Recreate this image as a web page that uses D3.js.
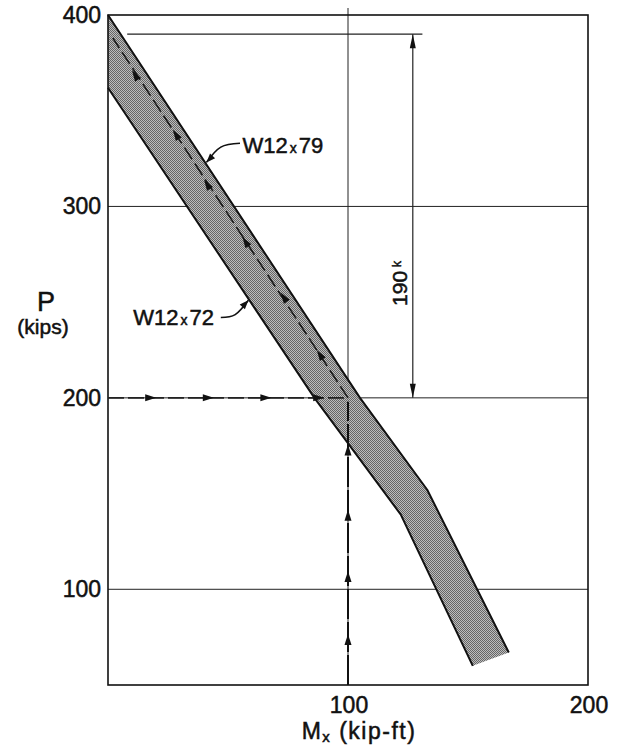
<!DOCTYPE html>
<html>
<head>
<meta charset="utf-8">
<script src="https://cdn.jsdelivr.net/npm/d3@7"></script>
<style>
  body { margin: 0; background: #fff; }
  text { font-family: "Liberation Sans", Arial, sans-serif; fill: #111; stroke: #111; stroke-width: 0.5px; }
</style>
</head>
<body>
<div id="chart"></div>
<script>
// values (M in kip-ft, P in kips)
var xTicks = [100, 200];
var yTicks = [100, 200, 300, 400];
var gridP = [100, 200, 300];
var gridM = [100];

// band edges
var w79 = [[0, 400], [105, 200], [133, 152], [167, 67]];
var w72 = [[0, 362], [86, 200], [122, 139], [152, 60]];

// design path
var pathHoriz = [[0, 200], [100, 200]];
var pathVert = [[100, 50], [100, 198]];
var pathDiag = [[100, 200], [2, 388]];
var horizArrows = [18, 42, 66, 88];
var vertArrows = [74, 107, 139, 173];
var diagArrows = [[10, 371], [27, 340], [40, 314], [56, 284], [72, 255], [87, 225]];

// dimension 190k
var dimTop = 390, dimBottom = 200, dimM = 127;
var dimLine = [[8, 390], [131, 390]];
var dimLabelP = 248;

// labels + leaders
var labels = [
  {name: "W12", size: "79", at: [56, 328], leader: [[55, 333], [47, 331], [41, 323]]},
  {name: "W12", size: "72", at: [10.5, 238], leader: [[47, 242], [53, 243.5], [58.5, 251]]}
];

var w = 621, h = 753;

var svg = d3.select("#chart")
  .append("svg")
  .attr("width", w)
  .attr("height", h);

var x = d3.scaleLinear().domain([0, 200]).range([108, 588]);
var y = d3.scaleLinear().domain([50, 400]).range([685, 15]);

var defs = svg.append("defs");
var pat = defs.append("pattern")
  .attr("id", "screen")
  .attr("width", 2)
  .attr("height", 2)
  .attr("patternUnits", "userSpaceOnUse");
pat.append("rect").attr("width", 2).attr("height", 2).attr("fill", "#bdbdbd");
pat.append("rect").attr("width", 1).attr("height", 1).attr("fill", "#666");
pat.append("rect").attr("x", 1).attr("y", 1).attr("width", 1).attr("height", 1).attr("fill", "#666");

var line = d3.line().x(function(d) { return x(d[0]); }).y(function(d) { return y(d[1]); });

// gridlines
svg.append("g").selectAll("line")
  .data(gridP)
  .enter().append("line")
  .attr("x1", x(0)).attr("x2", x(200))
  .attr("y1", function(d) { return y(d); })
  .attr("y2", function(d) { return y(d); })
  .attr("stroke", "#222")
  .attr("stroke-width", 1);

svg.append("g").selectAll("line")
  .data(gridM)
  .enter().append("line")
  .attr("x1", function(d) { return x(d); })
  .attr("x2", function(d) { return x(d); })
  .attr("y1", y(400) - 7).attr("y2", y(50))
  .attr("stroke", "#222")
  .attr("stroke-width", 1);

// band
var band = w79.concat(w72.slice().reverse());
svg.append("path")
  .attr("d", line(band) + "Z")
  .attr("fill", "url(#screen)")
  .attr("stroke", "none");

[w79, w72].forEach(function(edge) {
  svg.append("path")
    .attr("d", line(edge))
    .attr("fill", "none")
    .attr("stroke", "#111")
    .attr("stroke-width", 2)
    .attr("stroke-linejoin", "round");
});

// frame
svg.append("rect")
  .attr("x", x(0)).attr("y", y(400))
  .attr("width", x(200) - x(0)).attr("height", y(50) - y(400))
  .attr("fill", "none")
  .attr("stroke", "#111")
  .attr("stroke-width", 1.6);

function arrowHead(px, py, angle, len, half) {
  svg.append("path")
    .attr("d", "M0,0L" + (-len) + "," + (-half) + "L" + (-len) + "," + half + "Z")
    .attr("transform", "translate(" + px + "," + py + ") rotate(" + angle + ")")
    .attr("fill", "#111");
}

// design path lines
svg.append("path").attr("d", line(pathHoriz))
  .attr("stroke", "#222").attr("stroke-width", 1.6)
  .attr("stroke-dasharray", "16,4").attr("fill", "none");
svg.append("path").attr("d", line(pathVert))
  .attr("stroke", "#111").attr("stroke-width", 2)
  .attr("stroke-dasharray", "30,3").attr("fill", "none");
svg.append("path").attr("d", line(pathDiag))
  .attr("stroke", "#1a1a1a").attr("stroke-width", 1.6)
  .attr("stroke-dasharray", "14,5").attr("fill", "none");

horizArrows.forEach(function(m) { arrowHead(x(m) + 5, y(200), 0, 11, 3.5); });
vertArrows.forEach(function(p) { arrowHead(x(100), y(p) - 5, -90, 11, 3.5); });
var dAng = Math.atan2(y(pathDiag[1][1]) - y(pathDiag[0][1]), x(pathDiag[1][0]) - x(pathDiag[0][0])) * 180 / Math.PI;
diagArrows.forEach(function(d) { arrowHead(x(d[0]), y(d[1]), dAng, 11, 3.5); });

// dimension
svg.append("path").attr("d", line(dimLine))
  .attr("stroke", "#222").attr("stroke-width", 1.2).attr("fill", "none");
svg.append("line")
  .attr("x1", x(dimM)).attr("x2", x(dimM))
  .attr("y1", y(dimTop)).attr("y2", y(dimBottom))
  .attr("stroke", "#222").attr("stroke-width", 1.2);
arrowHead(x(dimM), y(dimTop), -90, 14, 3);
arrowHead(x(dimM), y(dimBottom), 90, 14, 3);

var dimLab = svg.append("text")
  .attr("transform", "translate(" + (x(dimM) - 6) + "," + y(dimLabelP) + ") rotate(-90)")
  .attr("font-size", 21);
dimLab.append("tspan").text(dimTop - dimBottom);
dimLab.append("tspan").attr("dy", -6).attr("dx", 4).attr("font-size", 12).text("k");

// section labels with leaders
var curve = d3.line().curve(d3.curveNatural)
  .x(function(d) { return x(d[0]); }).y(function(d) { return y(d[1]); });
labels.forEach(function(l) {
  var t = svg.append("text")
    .attr("x", x(l.at[0])).attr("y", y(l.at[1]))
    .attr("font-size", 22);
  t.append("tspan").text(l.name);
  t.append("tspan").attr("font-size", 14).attr("dx", 2).text("x");
  t.append("tspan").attr("dx", 2).text(l.size);
  svg.append("path").attr("d", curve(l.leader))
    .attr("fill", "none").attr("stroke", "#111").attr("stroke-width", 1.6);
  var a = l.leader[1], b = l.leader[2];
  var ang = Math.atan2(y(b[1]) - y(a[1]), x(b[0]) - x(a[0])) * 180 / Math.PI;
  arrowHead(x(b[0]), y(b[1]), ang, 9, 3.5);
});

// tick labels
svg.append("g").selectAll("text")
  .data(yTicks)
  .enter().append("text")
  .attr("x", 101)
  .attr("y", function(d) { return y(d) + 8; })
  .attr("text-anchor", "end")
  .attr("font-size", 23)
  .text(function(d) { return d; });

svg.append("g").selectAll("text")
  .data(xTicks)
  .enter().append("text")
  .attr("x", function(d) { return x(d) + 1; })
  .attr("y", 713)
  .attr("text-anchor", "middle")
  .attr("font-size", 23)
  .text(function(d) { return d; });

// axis titles
svg.append("text")
  .attr("x", 46).attr("y", 311)
  .attr("text-anchor", "middle")
  .attr("font-size", 27)
  .text("P");
svg.append("text")
  .attr("x", 43).attr("y", 334)
  .attr("text-anchor", "middle")
  .attr("font-size", 21)
  .text("(kips)");

var xt = svg.append("text")
  .attr("x", 359).attr("y", 739)
  .attr("text-anchor", "middle")
  .attr("font-size", 23)
  .attr("letter-spacing", 1.5);
xt.append("tspan").text("M");
xt.append("tspan").attr("font-size", 15).attr("dy", 3).text("x");
xt.append("tspan").attr("dy", -3).text(" (kip-ft)");
</script>
</body>
</html>
